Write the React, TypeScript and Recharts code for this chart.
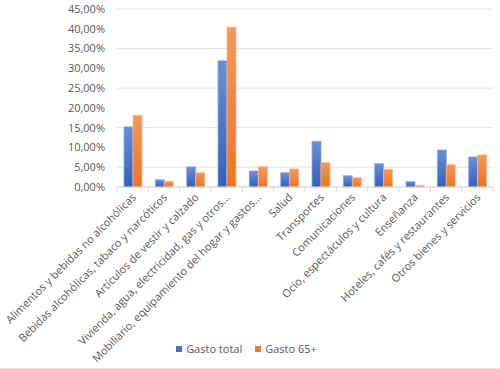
import React from 'react';
import {
  BarChart, Bar, XAxis, YAxis, CartesianGrid, Legend,
} from 'recharts';

const categories = [
  'Alimentos y bebidas no alcohólicas',
  'Bebidas alcohólicas, tabaco y narcóticos',
  'Artículos de vestir y calzado',
  'Vivienda, agua, electricidad, gas y otros...',
  'Mobiliario, equipamiento del hogar y gastos...',
  'Salud',
  'Transportes',
  'Comunicaciones',
  'Ocio, espectáculos y cultura',
  'Enseñanza',
  'Hoteles, cafés y restaurantes',
  'Otros bienes y servicios',
];
const gastoTotal = [15.2, 1.85, 5.1, 31.9, 4.05, 3.6, 11.55, 2.85, 5.9, 1.35, 9.35, 7.6];
const gasto65 = [18.1, 1.4, 3.6, 40.4, 5.1, 4.55, 6.15, 2.35, 4.45, 0.4, 5.65, 8.1];
const yTicks = [0, 5, 10, 15, 20, 25, 30, 35, 40, 45];
const seriesNames = ['Gasto total', 'Gasto 65+'];
const seriesColors = ['#4472C4', '#ED7D31'];

const data = categories.map((name, i) => ({
  name,
  total: gastoTotal[i],
  mayores: gasto65[i],
}));

const W = 500;
const H = 369;
const LEFT = 117;
const RIGHT = 7;
const BAND = (W - LEFT - RIGHT) / categories.length;
const TEXT = '#595959';
const FONT = '"Open Sans", sans-serif';

const fmt = (v: number) => v.toFixed(2).replace('.', ',') + '%';

function CategoryTick(props: any) {
  const { x, y, payload, index } = props;
  const last = index === categories.length - 1;
  const tx = x + 4;
  const ty = y + 11;
  return (
    <g>
      <line x1={x - BAND / 2} x2={x - BAND / 2} y1={y} y2={y + 5} stroke="#D9D9D9" />
      {last && <line x1={x + BAND / 2} x2={x + BAND / 2} y1={y} y2={y + 5} stroke="#D9D9D9" />}
      <text
        x={tx}
        y={ty}
        transform={`rotate(-45 ${tx} ${ty})`}
        textAnchor="end"
        fill={TEXT}
        fontSize={11}
        fontFamily={FONT}
      >
        {payload.value}
      </text>
    </g>
  );
}

function LegendBox() {
  return (
    <div style={{ display: 'flex', justifyContent: 'center', gap: 13, fontFamily: FONT, fontSize: 11, color: TEXT }}>
      {seriesNames.map((n, i) => (
        <div key={n} style={{ display: 'flex', alignItems: 'center' }}>
          <span style={{ width: 6, height: 6, background: seriesColors[i], marginRight: 4, display: 'inline-block' }} />
          {n}
        </div>
      ))}
    </div>
  );
}

export default function App() {
  return (
    <div style={{ position: 'fixed', left: 0, top: 0, width: W, height: H, background: '#fff', borderBottom: '1px solid #E6E6E6', boxSizing: 'border-box' }}>
      <BarChart
        width={W}
        height={H}
        data={data}
        margin={{ top: 9, right: RIGHT, left: 0, bottom: 10 }}
        barSize={9}
        barGap={0}
      >
        <defs>
          <linearGradient id="gBlue" x1="0" y1="0" x2="0" y2="1">
            <stop offset="0%" stopColor="#6A8FD6" />
            <stop offset="100%" stopColor="#3160C0" />
          </linearGradient>
          <linearGradient id="gOrange" x1="0" y1="0" x2="0" y2="1">
            <stop offset="0%" stopColor="#F4995A" />
            <stop offset="100%" stopColor="#EC7424" />
          </linearGradient>
        </defs>
        <CartesianGrid vertical={false} stroke="#E3E3E3" />
        <XAxis
          dataKey="name"
          interval={0}
          height={154}
          tickSize={0}
          tickMargin={0}
          tickLine={false}
          axisLine={{ stroke: '#D9D9D9' }}
          tick={<CategoryTick />}
        />
        <YAxis
          width={LEFT}
          domain={[0, 45]}
          ticks={yTicks}
          tickFormatter={fmt}
          axisLine={false}
          tickLine={false}
          tickMargin={6}
          tick={{ fill: TEXT, fontSize: 11, fontFamily: FONT }}
        />
        <Legend verticalAlign="bottom" height={18} content={<LegendBox />} />
        <Bar dataKey="total" name={seriesNames[0]} fill="url(#gBlue)" stroke="#8FAADC" strokeWidth={0.8} isAnimationActive={false} />
        <Bar dataKey="mayores" name={seriesNames[1]} fill="url(#gOrange)" stroke="#F8B98C" strokeWidth={0.8} isAnimationActive={false} />
      </BarChart>
    </div>
  );
}
